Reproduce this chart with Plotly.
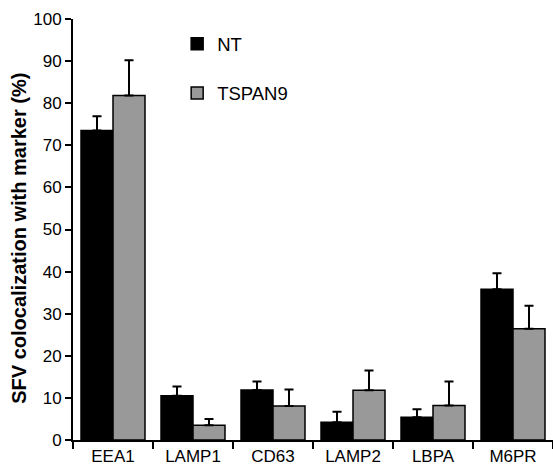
import plotly.graph_objects as go

categories = ["EEA1", "LAMP1", "CD63", "LAMP2", "LBPA", "M6PR"]
nt_values = [73.5, 10.5, 11.9, 4.2, 5.4, 35.8]
nt_errors = [3.4, 2.2, 2.0, 2.5, 1.9, 3.8]
tspan9_values = [81.8, 3.5, 8.1, 11.8, 8.2, 26.4]
tspan9_errors = [8.4, 1.5, 3.9, 4.7, 5.7, 5.5]
y_ticks = [0, 10, 20, 30, 40, 50, 60, 70, 80, 90, 100]
y_title = "SFV colocalization with marker (%)"

FONT = "Liberation Sans, Arial, sans-serif"

fig = go.Figure()
fig.add_trace(go.Bar(
    x=categories, y=nt_values, name="NT", legendgroup="a",
    marker=dict(color="black", line=dict(color="black", width=1.5)),
    error_y=dict(type="data", array=nt_errors, arrayminus=[0]*6, symmetric=False,
                 color="black", thickness=2, width=4.5),
))
fig.add_trace(go.Bar(
    x=categories, y=tspan9_values, name="TSPAN9", legendgroup="b",
    marker=dict(color="#999999", line=dict(color="black", width=1.5)),
    error_y=dict(type="data", array=tspan9_errors, arrayminus=[0]*6, symmetric=False,
                 color="black", thickness=2, width=4.5),
))

fig.update_layout(
    width=553, height=471,
    margin=dict(l=73, r=0, t=19, b=31),
    plot_bgcolor="white", paper_bgcolor="white",
    barmode="group", bargap=0.2, bargroupgap=0,
    font=dict(family=FONT, color="black", size=17),
    legend=dict(x=0.217, y=0.985, xanchor="left", yanchor="top",
                font=dict(size=18.5, family=FONT), tracegroupgap=22,
                traceorder="grouped", bgcolor="rgba(0,0,0,0)"),
    showlegend=True,
    annotations=[dict(
        text="<b>" + y_title + "</b>", textangle=-90,
        xref="paper", yref="paper", x=-0.1125, y=0.478,
        xanchor="center", yanchor="middle", showarrow=False,
        font=dict(size=20, family=FONT, color="black"),
    )],
)
fig.update_xaxes(
    showline=True, linecolor="black", linewidth=2,
    ticks="outside", tickson="boundaries", ticklen=7, tickwidth=1.5, tickcolor="black",
    tickfont=dict(size=17, family=FONT), range=[-0.5, 5.5], automargin=False,
    showgrid=False,
)
fig.update_yaxes(
    showline=True, linecolor="black", linewidth=2,
    ticks="outside", ticklen=6, tickwidth=2, tickcolor="black",
    tickvals=y_ticks, range=[0, 100], showgrid=False, zeroline=False,
    tickfont=dict(size=17, family=FONT), automargin=False,
)

fig.write_html("out.html", config={"displayModeBar": False},
               post_script="document.body.style.margin='0';")
